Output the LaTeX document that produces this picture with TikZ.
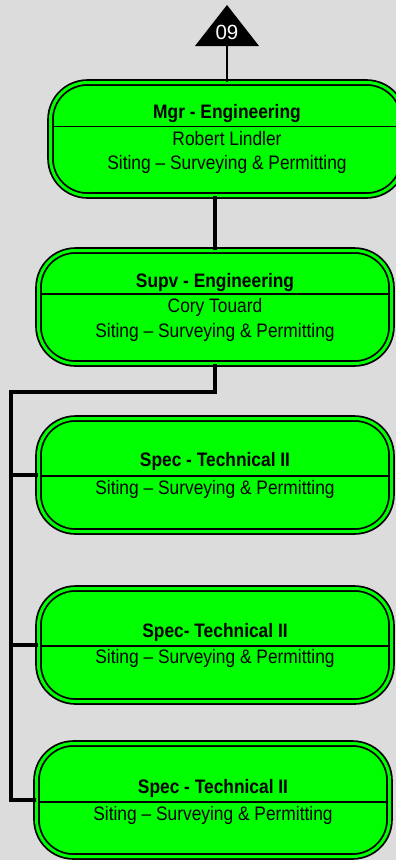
\documentclass[tikz,border=0pt]{standalone}
\usepackage{fontspec}
\usepackage{graphicx}
\setmainfont{Liberation Sans}
\usetikzlibrary{calc}
\definecolor{bggray}{HTML}{DCDCDC}
\definecolor{boxgreen}{HTML}{00FF00}
\newcommand{\cz}[1]{\scalebox{0.89}[1]{#1}}
\tikzset{
  orgbox/.style={draw=black, line width=1.8pt, double=boxgreen, double distance=3pt,
    fill=boxgreen, rounded corners=37pt, minimum width=353pt, minimum height=113pt,
    inner sep=0pt},
  txt/.style={inner sep=0pt, font=\fontsize{19.5}{22}\selectfont, text=black},
  ttl/.style={txt, font=\fontsize{19.5}{22}\selectfont\bfseries},
  divider/.style={line width=1.6pt},
  conn/.style={line width=3.2pt},
  thinconn/.style={line width=1.6pt}
}
\begin{document}
\begin{tikzpicture}[x=1pt,y=-1pt]
\fill[bggray] (0,0) rectangle (396,860);
\useasboundingbox (0,0) rectangle (396,860);
\clip (0,0) rectangle (396,860);

% triangle
\fill[black] (195,46) -- (227,5) -- (259,46) -- cycle;
\coordinate (tribase) at (227,46);
\node[inner sep=0pt, text=white, font=\fontsize{20.5}{22}\selectfont] (tri) at (227,32) {09};

% boxes
\node[orgbox] (b1) at (227,139) {};
\node[orgbox] (b2) at (215,307) {};
\node[orgbox] (b3) at (215,475) {};
\node[orgbox] (b4) at (215,645) {};
\node[orgbox] (b5) at (213,800) {};

% connectors
\draw[thinconn] (tribase) -- (b1.north);
\draw[conn] (b2.north |- b1.south) -- (b2.north);
\coordinate (bus) at (11,392);
\draw[conn] (b2.south) |- (bus) -- (bus |- b5.west) -- (b5.west);
\draw[conn] (bus |- b3.west) -- (b3.west);
\draw[conn] (bus |- b4.west) -- (b4.west);

% box 1
\draw[divider] ($(b1.west)+(4,-12.5)$) -- ($(b1.east)+(-4,-12.5)$);
\node[ttl] (b1t) at ($(b1.center)+(0,-26)$) {\cz{Mgr - Engineering}};
\node[txt] (b1n) at ($(b1.center)+(0,0)$) {\cz{Robert Lindler}};
\node[txt] (b1d) at ($(b1.center)+(0,25)$) {\cz{Siting – Surveying \& Permitting}};

% box 2
\draw[divider] ($(b2.west)+(4,-13)$) -- ($(b2.east)+(-4,-13)$);
\node[ttl] (b2t) at ($(b2.center)+(0,-25)$) {\cz{Supv - Engineering}};
\node[txt] (b2n) at ($(b2.center)+(0,0)$) {\cz{Cory Touard}};
\node[txt] (b2d) at ($(b2.center)+(0,25)$) {\cz{Siting – Surveying \& Permitting}};

% box 3
\draw[divider] ($(b3.west)+(4,1)$) -- ($(b3.east)+(-4,1)$);
\node[ttl] (b3t) at ($(b3.center)+(0,-14)$) {\cz{Spec - Technical II}};
\node[txt] (b3d) at ($(b3.center)+(0,14)$) {\cz{Siting – Surveying \& Permitting}};

% box 4
\draw[divider] ($(b4.west)+(4,1)$) -- ($(b4.east)+(-4,1)$);
\node[ttl] (b4t) at ($(b4.center)+(0,-13)$) {\cz{Spec- Technical II}};
\node[txt] (b4d) at ($(b4.center)+(0,13)$) {\cz{Siting – Surveying \& Permitting}};

% box 5
\draw[divider] ($(b5.west)+(4,2)$) -- ($(b5.east)+(-4,2)$);
\node[ttl] (b5t) at ($(b5.center)+(0,-12)$) {\cz{Spec - Technical II}};
\node[txt] (b5d) at ($(b5.center)+(0,15)$) {\cz{Siting – Surveying \& Permitting}};
\end{tikzpicture}
\end{document}
